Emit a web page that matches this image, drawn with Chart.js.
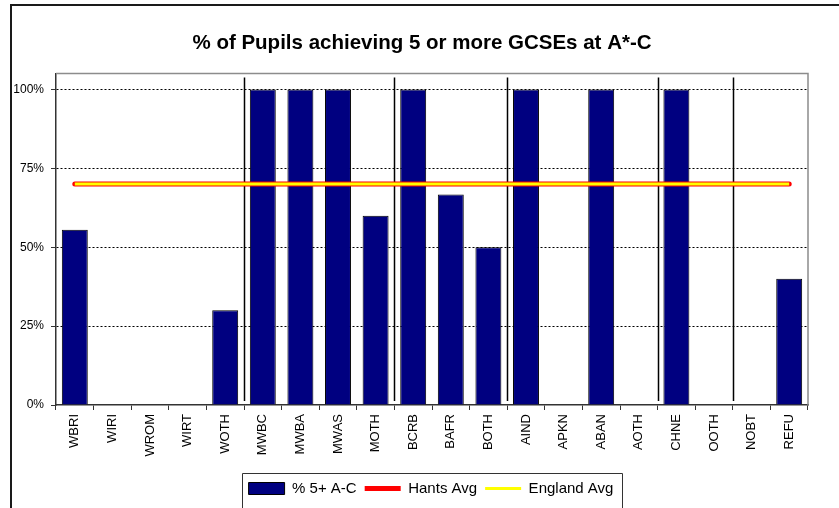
<!DOCTYPE html>
<html lang="en">
  <head>
    <meta charset="UTF-8" />
    <title>% of Pupils achieving 5 or more GCSEs at A*-C</title>
    <script src="https://cdn.jsdelivr.net/npm/chart.js"></script>
    <style>
      html,
      body {
        margin: 0;
        padding: 0;
        background: #ffffff;
      }
      #gcseChart {
        display: block;
      }
    </style>
  </head>
  <body>
    <canvas id="gcseChart" width="839" height="508"></canvas>

    <script>
      // Ethnic group codes along the x axis
      var groups = [
        "WBRI", "WIRI", "WROM", "WIRT", "WOTH",
        "MWBC", "MWBA", "MWAS", "MOTH",
        "BCRB", "BAFR", "BOTH",
        "AIND", "APKN", "ABAN", "AOTH",
        "CHNE", "OOTH",
        "NOBT", "REFU",
      ];
      // % achieving 5+ A*-C per group
      var pct5AC = [55.5, 0, 0, 0, 30, 100, 100, 100, 60, 100, 66.7, 50, 100, 0, 100, 0, 100, 0, 0, 40];
      var hantsAvg = [70, 70, 70, 70, 70, 70, 70, 70, 70, 70, 70, 70, 70, 70, 70, 70, 70, 70, 70, 70];
      var englandAvg = [70, 70, 70, 70, 70, 70, 70, 70, 70, 70, 70, 70, 70, 70, 70, 70, 70, 70, 70, 70];
      var yTicks = [0, 25, 50, 75, 100];
      // last group of each block (a divider is drawn after it)
      var blockEnds = ["WOTH", "MOTH", "BOTH", "AOTH", "OOTH"];

      var fontName = "'Liberation Sans', Arial, sans-serif";

      // frame, plot border, block dividers and legend box
      var framePlugin = {
        id: "framePlugin",
        afterUpdate: function (chart) {
          // the original picture is cropped on the right, so title and
          // legend sit a little right of the visible centre
          var lg = chart.legend;
          lg.left += 27;
          lg.right += 27;
          lg.legendHitBoxes.forEach(function (hb) {
            hb.left += 27;
          });
          var tb = chart.titleBlock;
          tb.left += 18;
          tb.right += 18;
        },
        beforeDatasetsDraw: function (chart) {
          var ctx = chart.ctx;
          var area = chart.chartArea;
          var x = chart.scales.x;
          var half = (x.getPixelForValue(1) - x.getPixelForValue(0)) / 2;
          ctx.save();
          ctx.strokeStyle = "#000000";
          ctx.lineWidth = 1.5;
          blockEnds.forEach(function (name) {
            var px = Math.round(x.getPixelForValue(groups.indexOf(name)) + half) + 0.5;
            ctx.beginPath();
            ctx.moveTo(px, area.top + 4);
            ctx.lineTo(px, area.bottom - 4);
            ctx.stroke();
          });
          ctx.restore();
        },
        afterDraw: function (chart) {
          var ctx = chart.ctx;
          var area = chart.chartArea;
          ctx.save();
          // plot area border (top/right)
          ctx.strokeStyle = "#8c8c8c";
          ctx.lineWidth = 1.5;
          ctx.beginPath();
          ctx.moveTo(area.left, area.top);
          ctx.lineTo(area.right, area.top);
          ctx.lineTo(area.right, area.bottom);
          ctx.stroke();
          // outer chart frame
          ctx.strokeStyle = "#1a1a1a";
          ctx.lineWidth = 2;
          ctx.beginPath();
          ctx.moveTo(11, 520);
          ctx.lineTo(11, 5);
          ctx.lineTo(850, 5);
          ctx.stroke();
          // legend box
          var boxes = chart.legend.legendHitBoxes;
          if (boxes && boxes.length) {
            var l = boxes[0].left - 7;
            var r = boxes[boxes.length - 1].left + boxes[boxes.length - 1].width + 9;
            var t = boxes[0].top - 8;
            ctx.strokeStyle = "#333333";
            ctx.lineWidth = 1;
            ctx.beginPath();
            ctx.moveTo(Math.round(l) + 0.5, 520);
            ctx.lineTo(Math.round(l) + 0.5, Math.round(t) + 0.5);
            ctx.lineTo(Math.round(r) + 0.5, Math.round(t) + 0.5);
            ctx.lineTo(Math.round(r) + 0.5, 520);
            ctx.stroke();
          }
          ctx.restore();
        },
      };

      var ctx = document.getElementById("gcseChart").getContext("2d");
      var gcseChart = new Chart(ctx, {
        type: "bar",
        data: {
          labels: groups,
          datasets: [
            {
              label: "% 5+ A-C",
              data: pct5AC,
              backgroundColor: "#000080",
              borderColor: "#000000",
              borderWidth: 1,
              barPercentage: 0.69,
              categoryPercentage: 1,
              pointStyle: "rect",
              order: 3,
            },
            {
              type: "line",
              label: "Hants Avg",
              data: hantsAvg,
              borderColor: "#ff0000",
              backgroundColor: "#ff0000",
              borderWidth: 5,
              pointRadius: 0,
              pointStyle: "line",
              borderCapStyle: "round",
              order: 2,
            },
            {
              type: "line",
              label: "England Avg",
              data: englandAvg,
              borderColor: "#ffff00",
              backgroundColor: "#ffff00",
              borderWidth: 3,
              pointRadius: 0,
              pointStyle: "line",
              order: 1,
            },
          ],
        },
        options: {
          responsive: false,
          animation: false,
          layout: {
            padding: { left: 0, right: 31, top: 0, bottom: 2 },
          },
          plugins: {
            title: {
              display: true,
              text: "% of Pupils achieving 5 or more GCSEs at A*-C",
              color: "#000000",
              font: { family: fontName, size: 20.5, weight: "bold" },
              padding: { top: 31, bottom: 18 },
            },
            legend: {
              position: "bottom",
              labels: {
                color: "#000000",
                font: { family: fontName, size: 15 },
                usePointStyle: true,
                pointStyleWidth: 36,
                boxHeight: 12,
                padding: 8,
                sort: function (a, b) {
                  return a.datasetIndex - b.datasetIndex;
                },
              },
            },
            tooltip: { enabled: false },
          },
          scales: {
            x: {
              offset: true,
              grid: {
                offset: true,
                drawOnChartArea: false,
                drawTicks: true,
                tickLength: 5,
                tickColor: "#333333",
              },
              border: { color: "#333333", width: 1.5 },
              ticks: {
                color: "#000000",
                font: { family: fontName, size: 13 },
                minRotation: 90,
                maxRotation: 90,
                autoSkip: false,
                padding: 4,
              },
              afterFit: function (scale) {
                scale.height = 68;
              },
            },
            y: {
              min: 0,
              max: 105,
              grid: {
                color: function (c) {
                  return c.tick && c.tick.value === 0 ? "rgba(0,0,0,0)" : "#000000";
                },
                tickBorderDash: [],
                tickColor: "#333333",
                tickLength: 5,
              },
              border: { color: "#333333", width: 1.5, dash: [2, 2] },
              ticks: {
                color: "#000000",
                font: { family: fontName, size: 12 },
                padding: 7,
                callback: function (v) {
                  return v + "%";
                },
              },
              afterBuildTicks: function (scale) {
                scale.ticks = yTicks.map(function (v) {
                  return { value: v };
                });
              },
              afterFit: function (scale) {
                scale.width = 56;
              },
            },
          },
        },
        plugins: [framePlugin],
      });
    </script>
  </body>
</html>
